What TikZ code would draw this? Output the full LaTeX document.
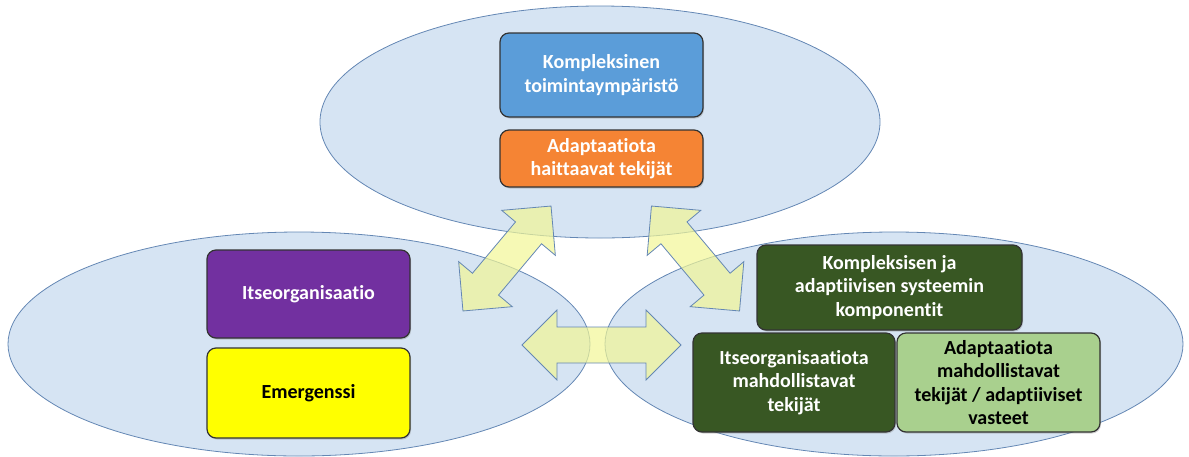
\documentclass[tikz,border=0pt]{standalone}
\usepackage{fontspec}
\setmainfont[Ligatures=NoCommon]{Carlito}
\usetikzlibrary{shapes.geometric,shadows}
\definecolor{soikiotausta}{RGB}{214,228,243}
\definecolor{soikioreuna}{RGB}{100,135,180}
\definecolor{nuolitausta}{RGB}{242,246,150}
\definecolor{sininen}{RGB}{91,157,217}
\definecolor{oranssi}{RGB}{245,132,52}
\definecolor{violetti}{RGB}{114,48,160}
\definecolor{keltainen}{RGB}{255,255,0}
\definecolor{tummavihrea}{RGB}{56,87,35}
\definecolor{vaaleavihrea}{RGB}{169,208,142}
\begin{document}
\begin{tikzpicture}[x=1pt,y=-1pt]
    \tikzset{soikio/.style={draw=soikioreuna, fill=soikiotausta, ellipse, line width=0.8pt, inner sep=0pt}}
    \tikzset{laatikko/.style={draw=black!80, line width=1.2pt, rounded corners=9pt, inner sep=2pt,
        align=center, font=\fontsize{20}{23.5}\selectfont\bfseries, text=white,
        drop shadow={shadow xshift=1pt, shadow yshift=-1.5pt, opacity=0.35}}}
    \tikzset{nuoli/.style={draw=soikioreuna, fill=nuolitausta, fill opacity=0.7, line width=0.8pt}}
    \useasboundingbox (0,0) rectangle (1189,456);
    % soikiot
    \node[soikio, minimum width=560pt, minimum height=232pt] (ylaosa) at (600,122) {};
    \node[soikio, minimum width=582pt, minimum height=224pt] (vasen) at (299,344) {};
    \node[soikio, minimum width=578pt, minimum height=224pt] (oikea) at (894,344) {};
    % nuolet
    \begin{scope}[shift={(507,258.5)}, rotate=50]
      \draw[nuoli] (-68.5,0) -- (-33.5,35) -- (-33.5,17) -- (33.5,17) -- (33.5,35) -- (68.5,0)
        -- (33.5,-35) -- (33.5,-17) -- (-33.5,-17) -- (-33.5,-35) -- cycle;
    \end{scope}
    \begin{scope}[shift={(695.5,258.5)}, rotate=-50]
      \draw[nuoli] (-68.5,0) -- (-33.5,35) -- (-33.5,17) -- (33.5,17) -- (33.5,35) -- (68.5,0)
        -- (33.5,-35) -- (33.5,-17) -- (-33.5,-17) -- (-33.5,-35) -- cycle;
    \end{scope}
    \begin{scope}[shift={(601.5,345)}]
      \draw[nuoli] (-79.5,0) -- (-44.5,35) -- (-44.5,18) -- (44.5,18) -- (44.5,35) -- (79.5,0)
        -- (44.5,-35) -- (44.5,-18) -- (-44.5,-18) -- (-44.5,-35) -- cycle;
    \end{scope}
    % laatikot
    \node[laatikko, fill=sininen, minimum width=203pt, minimum height=84pt] (kompleksinen) at (601.5,75) {Kompleksinen\\toimintaympäristö};
    \node[laatikko, fill=oranssi, minimum width=203pt, minimum height=57pt] (haittaavat) at (601.5,158.5) {Adaptaatiota\\haittaavat tekijät};
    \node[laatikko, fill=violetti, minimum width=203pt, minimum height=88pt] (itseorg) at (308.5,294) {Itseorganisaatio};
    \node[laatikko, fill=keltainen, text=black, minimum width=203pt, minimum height=90pt] (emergenssi) at (308.5,393) {Emergenssi};
    \node[laatikko, fill=tummavihrea, minimum width=265pt, minimum height=85pt] (komponentit) at (889.5,287.5) {Kompleksisen ja\\adaptiivisen systeemin\\komponentit};
    \node[laatikko, fill=tummavihrea, minimum width=202pt, minimum height=99pt] (itseorgtekijat) at (794,382.5) {Itseorganisaatiota\\mahdollistavat\\tekijät};
    \node[laatikko, fill=vaaleavihrea, text=black, minimum width=203pt, minimum height=99pt] (adaptiiviset) at (998.5,382.5) {Adaptaatiota\\mahdollistavat\\tekijät / adaptiiviset\\vasteet};
  \end{tikzpicture}
\end{document}
